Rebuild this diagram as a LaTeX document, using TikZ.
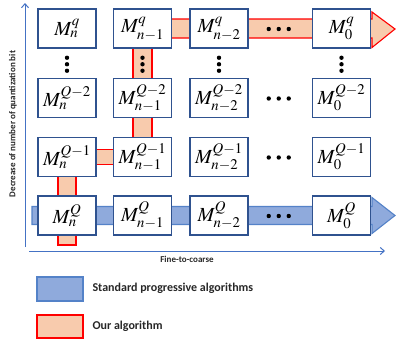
\documentclass[tikz,border=0pt]{standalone}
\usepackage{fontspec}
\usepackage{mathptmx}
\usetikzlibrary{arrows.meta,calc}
\newfontfamily\labfont{Carlito}
\definecolor{boxblue}{RGB}{47,82,143}
\definecolor{axisblue}{RGB}{68,114,196}
\definecolor{stdfill}{RGB}{143,170,220}
\definecolor{stdline}{RGB}{84,130,200}
\definecolor{ourfill}{RGB}{248,203,173}
\definecolor{ourline}{RGB}{255,0,0}
\tikzset{
  mbox/.style={draw=boxblue, fill=white, line width=1.2pt, minimum width=58pt,
    minimum height=39pt, inner sep=0pt, font=\fontsize{20}{22}\selectfont},
  stdbar/.style={fill=stdfill, draw=stdline, line width=1.1pt},
  ourbar/.style={fill=ourfill, draw=ourline, line width=1.1pt},
  axisline/.style={draw=axisblue, line width=1pt, -{Straight Barb[length=4pt,width=7pt]}},
  lab/.style={font=\labfont\bfseries\fontsize{9}{10}\selectfont, text=black!85},
  leglab/.style={font=\labfont\bfseries\fontsize{12}{14}\selectfont, text=black!85, anchor=west},
  dot/.style={fill=black}
}
\begin{document}
\begin{tikzpicture}[x=1pt,y=-1pt]
\useasboundingbox (0,0) rectangle (399,340);

% grid of bit-plane maps: rows = quantization level, columns = scale
\foreach \r/\yy in {1/28.5,2/98,3/157,4/215.5}{
  \foreach \c/\xx in {1/67,2/142.5,3/219,4/341.5}{
    \coordinate (p\r\c) at (\xx,\yy);
  }
}

% standard progressive path (bottom row)
\path[stdbar] ($(p41)+(-35,-9)$) -- ($(p44)+(30.5,-9)$) -- ($(p44)+(30.5,-18)$)
  -- ($(p44)+(53.5,0)$) -- ($(p44)+(30.5,18)$) -- ($(p44)+(30.5,9)$)
  -- ($(p41)+(-35,9)$) -- cycle;

% our path
\path[ourbar] ($(p41)+(-9,29.5)$) rectangle ($(p31)+(9,0)$);
\path[ourbar] ($(p31)+(0,-7.5)$) rectangle ($(p32)+(0,7.5)$);
\path[ourbar] ($(p32)+(-9.5,0)$) rectangle ($(p12)+(9.5,0)$);
\path[ourbar] ($(p12)+(0,-9.5)$) -- ($(p14)+(30.5,-9.5)$) -- ($(p14)+(30.5,-16.5)$)
  -- ($(p14)+(53.5,0.5)$) -- ($(p14)+(30.5,19)$) -- ($(p14)+(30.5,9.5)$)
  -- ($(p12)+(0,9.5)$) -- cycle;

% boxes
\node[mbox] (b11) at (p11) {$M_{n}^{q}$};
\node[mbox] (b12) at (p12) {$M_{n-1}^{q}$};
\node[mbox] (b13) at (p13) {$M_{n-2}^{q}$};
\node[mbox] (b14) at (p14) {$M_{0}^{q}$};
\node[mbox] (b21) at (p21) {$M_{n}^{Q-2}$};
\node[mbox] (b22) at (p22) {$M_{n-1}^{Q-2}$};
\node[mbox] (b23) at (p23) {$M_{n-2}^{Q-2}$};
\node[mbox] (b24) at (p24) {$M_{0}^{Q-2}$};
\node[mbox] (b31) at (p31) {$M_{n}^{Q-1}$};
\node[mbox] (b32) at (p32) {$M_{n-1}^{Q-1}$};
\node[mbox] (b33) at (p33) {$M_{n-2}^{Q-1}$};
\node[mbox] (b34) at (p34) {$M_{0}^{Q-1}$};
\node[mbox] (b41) at (p41) {$M_{n}^{Q}$};
\node[mbox] (b42) at (p42) {$M_{n-1}^{Q}$};
\node[mbox] (b43) at (p43) {$M_{n-2}^{Q}$};
\node[mbox] (b44) at (p44) {$M_{0}^{Q}$};

% vertical ellipses between the first two rows
\foreach \c in {1,2,3,4}{
  \foreach \d in {-6.5,0,6.5}{
    \fill[dot] ($(b1\c.center)!0.5!(b2\c.center)+(0,\d+1)$) circle (2.2);
  }
}
% horizontal ellipses between the last two columns
\foreach \r in {1,2,3,4}{
  \foreach \d in {-10,0,10}{
    \fill[dot] ($(b\r3.center)!0.5!(b\r4.center)+(\d-1.5,0.5)$) circle (2.2);
  }
}

% axes
\coordinate (yb) at (25,247);
\coordinate (yt) at (25,3);
\coordinate (xl) at (29,251);
\coordinate (xr) at (385,251);
\draw[axisline] (yb) -- (yt);
\draw[axisline] (xl) -- (xr);
\node[lab, rotate=90] (ylab) at (13,124) {Decrease of number of quantization bit};
\node[lab] (xlab) at (187,259) {Fine-to-coarse};

% legend
\path[stdbar] (37,277) rectangle (83,301);
\node[leglab] (l1) at (89,288.5) {Standard progressive algorithms};
\path[ourbar] (37,315) rectangle (83,338);
\node[leglab] (l2) at (89,326) {Our algorithm};
\end{tikzpicture}
\end{document}
